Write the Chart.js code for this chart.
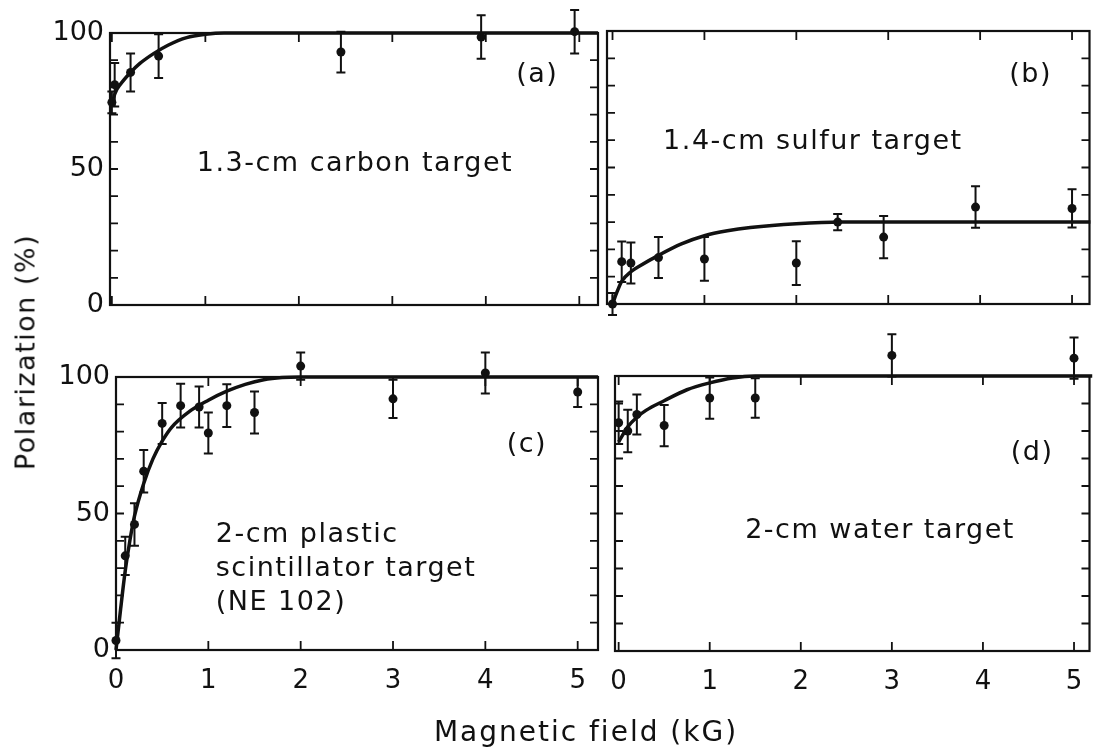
<!DOCTYPE html>
<html>
<head>
<meta charset="utf-8">
<script src="https://cdn.jsdelivr.net/npm/chart.js@4"></script>
<style>
  body { margin: 0; background: #fff; }
  #fig { position: relative; width: 1094px; height: 751px; overflow: hidden; background: #fff; }
  #fig canvas { position: absolute; left: 0; top: 0; }
  .title { position: absolute; font-family: "DejaVu Sans", sans-serif; color: #111; white-space: nowrap; }
  #ytitle { left: 25px; top: 352px; transform: translate(-50%, -50%) rotate(-90deg); font-size: 27px; letter-spacing: 1.5px; }
  #xtitle { left: 586px; top: 731px; transform: translate(-50%, -50%); font-size: 28px; letter-spacing: 2px; }
</style>
</head>
<body>
<div id="fig">
  <canvas id="panelA" width="1094" height="751"></canvas>
  <canvas id="panelB" width="1094" height="751"></canvas>
  <canvas id="panelC" width="1094" height="751"></canvas>
  <canvas id="panelD" width="1094" height="751"></canvas>
  <div class="title" id="ytitle">Polarization (%)</div>
  <div class="title" id="xtitle">Magnetic field (kG)</div>
</div>
<script>
// ticks shared by all four panels
const xTicks = [0, 1, 2, 3, 4, 5];
const yTicks = [0, 10, 20, 30, 40, 50, 60, 70, 80, 90, 100];

// (a) 1.3-cm carbon target
const carbonField = [0, 0.03, 0.2, 0.5, 2.45, 3.95, 4.95];
const carbonPol = [74.5, 81, 85.5, 91.5, 93, 98.5, 100.5];
const carbonErr = [4, 8, 7, 8, 7.5, 8, 8];
const carbonFitField = [0, 0.03, 0.1, 0.2, 0.3, 0.45, 0.6, 0.8, 1.0, 1.2, 5.2];
const carbonFitPol = [73, 77.5, 81.5, 85.5, 88.8, 92.5, 95.5, 98.3, 99.5, 100, 100];

// (b) 1.4-cm sulfur target
const sulfurField = [0, 0.1, 0.2, 0.5, 1.0, 2.0, 2.45, 2.95, 3.95, 5.0];
const sulfurPol = [0, 15.5, 15, 17, 16.5, 15, 30, 24.5, 35.5, 35];
const sulfurErr = [4, 7.4, 7.5, 7.5, 8, 8, 3, 7.7, 7.6, 7];
const sulfurFitField = [0, 0.05, 0.1, 0.2, 0.3, 0.5, 0.75, 1.0, 1.25, 1.5, 2.0, 2.5, 5.2];
const sulfurFitPol = [0, 4.5, 8.3, 11.8, 14, 17.8, 22, 25, 26.8, 28, 29.4, 30, 30];

// (c) 2-cm plastic scintillator target (NE 102)
const plasticField = [0, 0.1, 0.2, 0.3, 0.5, 0.7, 0.9, 1.0, 1.2, 1.5, 2.0, 3.0, 4.0, 5.0];
const plasticPol = [3.5, 34.5, 46, 65.5, 83, 89.5, 89, 79.5, 89.5, 87, 104, 92, 101.5, 94.5];
const plasticErr = [6.5, 7, 7.8, 7.8, 7.5, 8, 7.5, 7.5, 7.8, 7.7, 5, 7, 7.5, 5.5];
const plasticFitField = [0, 0.05, 0.1, 0.15, 0.2, 0.3, 0.4, 0.5, 0.6, 0.8, 1.0, 1.2, 1.4, 1.6, 1.8, 2.0, 5.22];
const plasticFitPol = [0, 15, 29, 40, 49, 61, 70, 76.5, 81.5, 87.5, 91.5, 94.8, 97.3, 99, 99.8, 100, 100];

// (d) 2-cm water target
const waterField = [0, 0.1, 0.2, 0.5, 1.0, 1.5, 3.0, 5.0];
const waterPol = [83, 80, 86, 82, 92, 92, 107.5, 106.5];
const waterErr = [7.7, 7.7, 7.3, 7.5, 7.5, 7.2, 7.7, 7.5];
const waterFitField = [0, 0.1, 0.2, 0.3, 0.5, 0.75, 1.0, 1.25, 1.5, 5.2];
const waterFitPol = [76, 81.5, 85, 87.5, 91, 95, 97.5, 99.3, 100, 100];

const FONT = '"DejaVu Sans", sans-serif';
const INK = "#111";
const PAGE_W = 1094;
const PAGE_H = 751;
const Y_AXIS_W = 60;
const X_AXIS_H = 50;
const DOT_R = 4.5;

function toPoints(xs, ys) {
    return xs.map((x, i) => ({ x: x, y: ys[i] }));
}

// box round the plot area with inward ticks on all four sides
const framePlugin = {
    id: "frame",
    beforeDatasetsDraw(chart) {
        const { ctx, chartArea: a, scales } = chart;
        ctx.save();
        ctx.strokeStyle = INK;
        ctx.lineWidth = 2.2;
        ctx.strokeRect(a.left, a.top, a.right - a.left, a.bottom - a.top);
        ctx.lineWidth = 1.8;
        ctx.beginPath();
        scales.y.ticks.forEach((t) => {
            const py = scales.y.getPixelForValue(t.value);
            ctx.moveTo(a.left, py);
            ctx.lineTo(a.left + 8, py);
            ctx.moveTo(a.right, py);
            ctx.lineTo(a.right - 8, py);
        });
        scales.x.ticks.forEach((t) => {
            const px = scales.x.getPixelForValue(t.value);
            ctx.moveTo(px, a.bottom);
            ctx.lineTo(px, a.bottom - 9);
            ctx.moveTo(px, a.top);
            ctx.lineTo(px, a.top + 9);
        });
        ctx.stroke();
        ctx.restore();
    },
};

// vertical error bars with short caps; points lying above the frame are
// skipped by the point element, so their dots are filled in here as well
const errorBarPlugin = {
    id: "errorBars",
    afterDatasetsDraw(chart) {
        const ds = chart.data.datasets[0];
        const { ctx, chartArea: a, scales } = chart;
        ctx.save();
        ctx.strokeStyle = INK;
        ctx.fillStyle = INK;
        ctx.lineWidth = 2;
        ds.data.forEach((p, i) => {
            const e = ds.errors[i];
            const px = scales.x.getPixelForValue(p.x);
            const py = scales.y.getPixelForValue(p.y);
            const top = scales.y.getPixelForValue(p.y + e);
            const bot = scales.y.getPixelForValue(p.y - e);
            ctx.beginPath();
            ctx.moveTo(px, top);
            ctx.lineTo(px, bot);
            ctx.moveTo(px - 4.5, top);
            ctx.lineTo(px + 4.5, top);
            ctx.moveTo(px - 4.5, bot);
            ctx.lineTo(px + 4.5, bot);
            ctx.stroke();
            if (py < a.top - DOT_R || py > a.bottom + DOT_R) {
                ctx.beginPath();
                ctx.arc(px, py, DOT_R, 0, Math.PI * 2);
                ctx.fill();
            }
        });
        ctx.restore();
    },
};

// panel captions, placed in field / polarization units
const captionPlugin = {
    id: "captions",
    afterDraw(chart, args, opts) {
        const { ctx, scales } = chart;
        ctx.save();
        ctx.fillStyle = INK;
        ctx.font = "27px " + FONT;
        ctx.letterSpacing = "1.5px";
        ctx.textBaseline = "middle";
        (opts.items || []).forEach((c) => {
            ctx.textAlign = c.align || "center";
            ctx.fillText(c.text, scales.x.getPixelForValue(c.x), scales.y.getPixelForValue(c.y));
        });
        ctx.restore();
    },
};

function makePanel(id, p) {
    const canvas = document.getElementById(id);
    if (!canvas) return;
    new Chart(canvas, {
        type: "scatter",
        data: {
            datasets: [
                {
                    type: "scatter",
                    data: toPoints(p.field, p.pol),
                    errors: p.err,
                    pointRadius: DOT_R,
                    pointBackgroundColor: INK,
                    pointBorderWidth: 0,
                    clip: false,
                    order: 0,
                },
                {
                    type: "line",
                    data: toPoints(p.fitField, p.fitPol),
                    borderColor: INK,
                    borderWidth: 3.5,
                    pointRadius: 0,
                    fill: false,
                    cubicInterpolationMode: "monotone",
                    clip: false,
                    order: 1,
                },
            ],
        },
        options: {
            responsive: false,
            animation: false,
            devicePixelRatio: 1,
            events: [],
            layout: {
                padding: {
                    left: p.showY ? p.left - Y_AXIS_W : p.left,
                    right: PAGE_W - p.right,
                    top: p.top,
                    bottom: p.showX ? PAGE_H - p.bottom - X_AXIS_H : PAGE_H - p.bottom,
                },
            },
            scales: {
                x: {
                    type: "linear",
                    min: p.xMin,
                    max: p.xMax,
                    display: p.showX,
                    afterBuildTicks: (s) => {
                        s.ticks = xTicks.map((v) => ({ value: v }));
                    },
                    afterFit: (s) => {
                        s.height = p.showX ? X_AXIS_H : 0;
                        s.paddingLeft = 0;
                        s.paddingRight = 0;
                    },
                    grid: { display: false, drawTicks: false },
                    border: { display: false },
                    ticks: {
                        color: INK,
                        font: { family: FONT, size: 26 },
                        padding: 16,
                        maxRotation: 0,
                        autoSkip: false,
                    },
                },
                y: {
                    type: "linear",
                    min: 0,
                    max: 100,
                    display: p.showY,
                    afterBuildTicks: (s) => {
                        s.ticks = yTicks.map((v) => ({ value: v }));
                    },
                    afterFit: (s) => {
                        s.width = p.showY ? Y_AXIS_W : 0;
                        s.paddingTop = 0;
                        s.paddingBottom = 0;
                    },
                    grid: { display: false, drawTicks: false },
                    border: { display: false },
                    ticks: {
                        color: INK,
                        font: { family: FONT, size: 27 },
                        padding: 6,
                        autoSkip: false,
                        callback: (v) => (v % 50 === 0 ? v : ""),
                    },
                },
            },
            plugins: {
                legend: { display: false },
                tooltip: { enabled: false },
                captions: { items: p.captions },
            },
        },
        plugins: [framePlugin, errorBarPlugin, captionPlugin],
    });
}

makePanel("panelA", {
    field: carbonField, pol: carbonPol, err: carbonErr,
    fitField: carbonFitField, fitPol: carbonFitPol,
    left: 110, top: 33, right: 598, bottom: 305,
    xMin: -0.02, xMax: 5.2, showX: false, showY: true,
    captions: [
        { text: "(a)", x: 4.55, y: 84.5 },
        { text: "1.3-cm carbon target", x: 2.6, y: 52 },
    ],
});

makePanel("panelB", {
    field: sulfurField, pol: sulfurPol, err: sulfurErr,
    fitField: sulfurFitField, fitPol: sulfurFitPol,
    left: 607, top: 31, right: 1093, bottom: 304,
    xMin: -0.06, xMax: 5.19, showX: false, showY: false,
    captions: [
        { text: "(b)", x: 4.55, y: 84 },
        { text: "1.4-cm sulfur target", x: 2.18, y: 59.5 },
    ],
});

makePanel("panelC", {
    field: plasticField, pol: plasticPol, err: plasticErr,
    fitField: plasticFitField, fitPol: plasticFitPol,
    left: 116, top: 377, right: 598, bottom: 650,
    xMin: 0, xMax: 5.22, showX: true, showY: true,
    captions: [
        { text: "(c)", x: 4.45, y: 75 },
        { text: "2-cm plastic", x: 1.08, y: 42, align: "left" },
        { text: "scintillator target", x: 1.08, y: 29.8, align: "left" },
        { text: "(NE 102)", x: 1.08, y: 17.3, align: "left" },
    ],
});

makePanel("panelD", {
    field: waterField, pol: waterPol, err: waterErr,
    fitField: waterFitField, fitPol: waterFitPol,
    left: 615, top: 376, right: 1093, bottom: 651,
    xMin: -0.04, xMax: 5.17, showX: true, showY: false,
    captions: [
        { text: "(d)", x: 4.54, y: 72 },
        { text: "2-cm water target", x: 2.87, y: 43.5 },
    ],
});
</script>
</body>
</html>
